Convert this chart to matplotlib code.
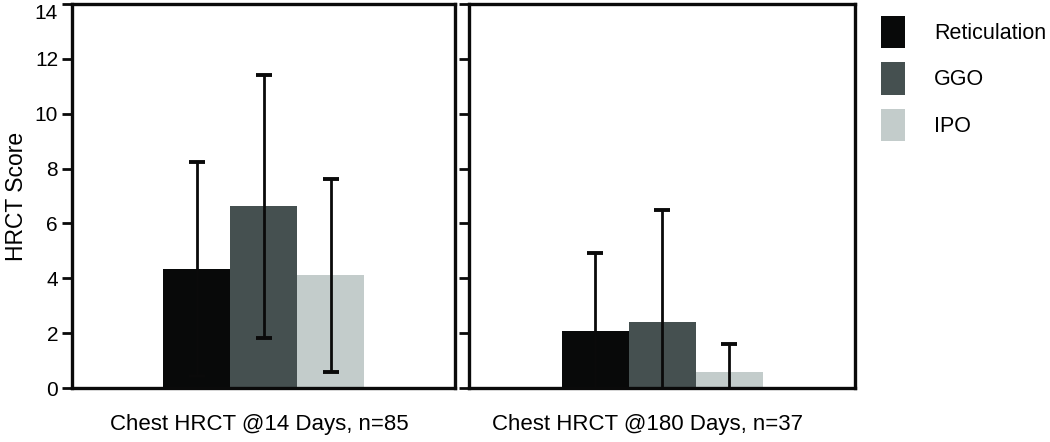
import matplotlib
matplotlib.use("Agg")
import matplotlib.pyplot as plt
import numpy as np
from matplotlib.patches import Patch

plt.rcParams['font.family'] = ['Liberation Sans', 'DejaVu Sans']

# data
series = ["Reticulation", "GGO", "IPO"]
colors = ["#080909", "#455050", "#c3cccb"]
panels = ["Chest HRCT @14 Days, n=85", "Chest HRCT @180 Days, n=37"]
means_14 = [4.34, 6.62, 4.11]
err_14 = [3.9, 4.8, 3.52]
means_180 = [2.09, 2.40, 0.60]
err_180 = [2.85, 4.10, 1.01]
yticks = [0, 2, 4, 6, 8, 10, 12, 14]

W, H = 1050, 442
fig = plt.figure(figsize=(W/100, H/100), dpi=100)
ax1 = fig.add_axes([72/W, 1-388/H, 383/W, 384/H])
ax2 = fig.add_axes([469/W, 1-388/H, 386/W, 384/H])

x = np.arange(len(series)) - 1.0

for ax, m, e, lab, lx in [(ax1, means_14, err_14, panels[0], 0.488),
                          (ax2, means_180, err_180, panels[1], 0.463)]:
    ax.bar(x, m, width=1.0, color=colors, zorder=1)
    ax.errorbar(x, m, yerr=e, fmt="none", ecolor="#0a0a0a", elinewidth=2,
                capsize=5.8, capthick=2.8, zorder=3)
    half = ax.get_position().width * W / 67 / 2
    ax.set_xlim(-half, half)
    ax.set_ylim(0, 14)
    ax.set_xticks([])
    ax.set_yticks(yticks)
    for s in ax.spines.values():
        s.set_linewidth(2.4)
        s.set_color("#0a0a0a")
    ax.tick_params(axis="y", direction="out", length=7, width=2, color="#0a0a0a",
                   labelsize=15, pad=3)
    ax.set_xlabel(lab, fontsize=16)
    ax.xaxis.set_label_coords(lx, -0.068)

ax2.tick_params(axis="y", labelleft=False)
ax1.get_yticklabels()[-1].set_va("top")
ax1.set_ylabel("HRCT Score", fontsize=16.5, labelpad=5)

handles = [Patch(facecolor=c, edgecolor="none") for c in colors]
fig.legend(handles, series, loc="upper left", bbox_to_anchor=(881/W, 1-16/H),
           frameon=False, fontsize=15.5, handlelength=1.12, handleheight=1.915,
           handletextpad=1.35, labelspacing=0.67, borderpad=0, borderaxespad=0)

fig.savefig("out.png", dpi=100)
